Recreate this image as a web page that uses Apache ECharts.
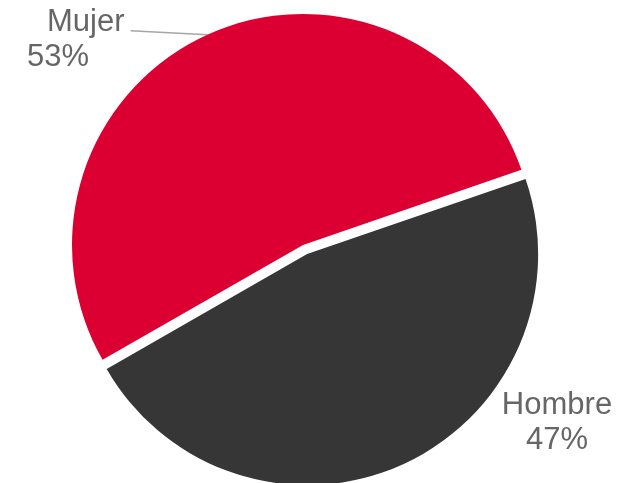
<!DOCTYPE html>
<html lang="es">
<head>
    <meta charset="UTF-8">
    <title>Mujer / Hombre</title>
    <script src="https://cdn.jsdelivr.net/npm/echarts@6/dist/echarts.min.js"></script>
    <style>
        html, body { margin: 0; padding: 0; background: #fff; }
        #chart { width: 626px; height: 483px; }
    </style>
</head>
<body>
    <div id="chart"></div>
    <script type="text/javascript">
        // datos
        var categorias = ['Hombre', 'Mujer'];
        var valores = [47, 53];
        var colores = ['#363636', '#dc0032'];

        var myChart = echarts.init(document.getElementById('chart'), null, { renderer: 'canvas' });

        // porciones (Hombre separada)
        var porciones = categorias.map(function (nombre, i) {
            return {
                name: nombre,
                value: valores[i],
                selected: nombre === 'Hombre',
                itemStyle: { color: colores[i] }
            };
        });

        // misma serie, transparente, solo para las etiquetas
        var etiquetas = categorias.map(function (nombre, i) {
            return {
                name: nombre,
                value: valores[i],
                labelLine: { show: nombre === 'Mujer' }
            };
        });

        var comun = {
            type: 'pie',
            center: [303, 245],
            radius: 231,
            startAngle: 19,
            clockwise: true,
            avoidLabelOverlap: false,
            silent: true
        };

        myChart.setOption({
            animation: false,
            backgroundColor: '#fff',
            series: [
                Object.assign({}, comun, {
                    selectedMode: 'single',
                    selectedOffset: 10,
                    label: { show: false },
                    labelLine: { show: false },
                    data: porciones
                }),
                Object.assign({}, comun, {
                    itemStyle: { color: 'rgba(0,0,0,0)' },
                    label: {
                        show: true,
                        position: 'outside',
                        fontFamily: 'Liberation Sans, Arial, sans-serif',
                        fontSize: 31,
                        lineHeight: 35,
                        color: '#666',
                        formatter: function (p) {
                            if (p.name === 'Mujer') {
                                return '{n|' + p.name + '}\n{p|' + p.percent + '%}';
                            }
                            return p.name + '\n' + p.percent + '%';
                        },
                        rich: {
                            n: { fontSize: 31, lineHeight: 35, color: '#666', padding: [0, 0, 0, 20] },
                            p: { fontSize: 31, lineHeight: 35, color: '#666' }
                        }
                    },
                    labelLine: {
                        length: 0,
                        length2: 77,
                        smooth: false,
                        lineStyle: { color: '#a6a6a6', width: 1.5 }
                    },
                    labelLayout: function (params) {
                        if (params.dataIndex === 1) {
                            var p0 = params.labelLinePoints ? params.labelLinePoints[0] : null;
                            var res = { x: 27, y: 5, align: 'left', verticalAlign: 'top' };
                            if (p0) {
                                res.labelLinePoints = [p0, [p0[0] - 77, p0[1] - 4]];
                            }
                            return res;
                        }
                        return { x: 557, y: 388, align: 'center', verticalAlign: 'top' };
                    },
                    data: etiquetas
                })
            ]
        });
    </script>
</body>
</html>
